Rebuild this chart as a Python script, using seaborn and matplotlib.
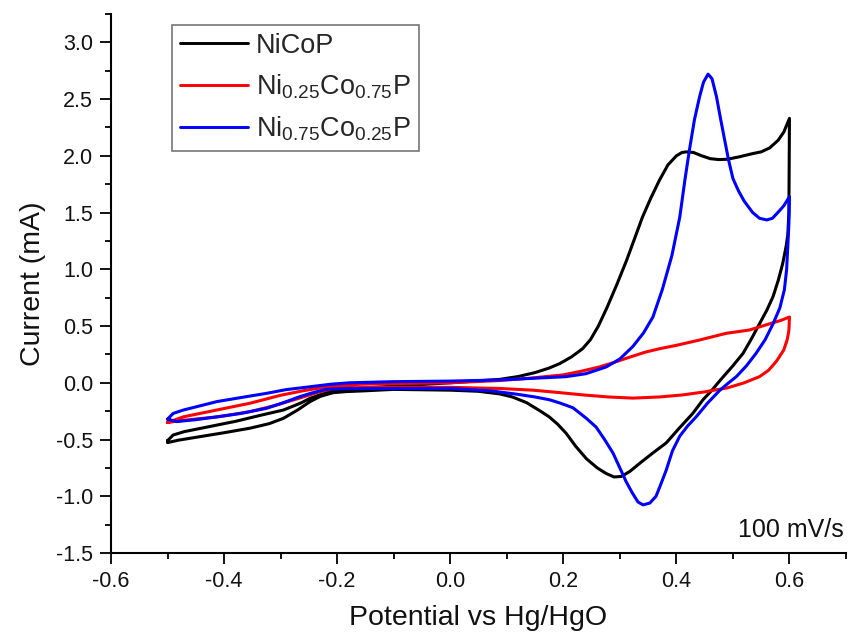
import numpy as np
import pandas as pd
import matplotlib
matplotlib.use("Agg")
import matplotlib.pyplot as plt
from matplotlib.ticker import MultipleLocator, FormatStrFormatter
import seaborn as sns

# ---------------- data (closed CV loops: forward scan then reverse scan) ----------------
nicop_potential = [
    -0.50, -0.49, -0.47, -0.43, -0.38, -0.33, -0.295, -0.265, -0.248, -0.23, -0.213,
    -0.19, -0.166, -0.10, 0.0, 0.0875, 0.12, 0.15, 0.175, 0.194, 0.215, 0.234, 0.248,
    0.262, 0.277, 0.295, 0.312, 0.326, 0.340, 0.355, 0.370, 0.385, 0.400, 0.410, 0.418,
    0.430, 0.445, 0.460, 0.475, 0.490, 0.510, 0.535, 0.550, 0.565, 0.580, 0.590, 0.600,
    0.599, 0.597, 0.594, 0.588, 0.580, 0.571, 0.560, 0.547, 0.533, 0.518, 0.500, 0.478,
    0.462, 0.447, 0.429, 0.405, 0.382, 0.358, 0.335, 0.318, 0.303, 0.290, 0.276, 0.260,
    0.241, 0.222, 0.205, 0.190, 0.175, 0.158, 0.135, 0.110, 0.0875, 0.05, 0.0, -0.10,
    -0.148, -0.185, -0.207, -0.230, -0.248, -0.270, -0.295, -0.320, -0.354, -0.400,
    -0.443, -0.480, -0.500, -0.500]
nicop_current = [
    -0.51, -0.46, -0.43, -0.39, -0.34, -0.28, -0.24, -0.18, -0.137, -0.105, -0.078,
    -0.06, -0.05, -0.03, 0.0, 0.03, 0.055, 0.09, 0.13, 0.17, 0.23, 0.30, 0.38,
    0.50, 0.66, 0.87, 1.08, 1.27, 1.46, 1.63, 1.785, 1.92, 2.00, 2.03, 2.035,
    2.03, 2.00, 1.975, 1.967, 1.97, 1.99, 2.02, 2.035, 2.07, 2.137, 2.21, 2.33,
    1.50, 1.30, 1.20, 1.05, 0.90, 0.76, 0.64, 0.52, 0.39, 0.26, 0.15, 0.025,
    -0.07, -0.15, -0.27, -0.40, -0.53, -0.62, -0.71, -0.78, -0.825, -0.83, -0.80, -0.75,
    -0.67, -0.56, -0.445, -0.365, -0.30, -0.245, -0.175, -0.125, -0.098, -0.075, -0.065, -0.058,
    -0.07, -0.078, -0.087, -0.12, -0.166, -0.24, -0.313, -0.36, -0.40, -0.44,
    -0.475, -0.505, -0.527, -0.51]

ni25_potential = [
    -0.50, -0.472, -0.413, -0.354, -0.30, -0.26, -0.236, -0.20, -0.15, 0.0, 0.0875,
    0.14, 0.20, 0.23, 0.264, 0.29, 0.32, 0.345, 0.37, 0.40, 0.441, 0.488, 0.529, 0.565,
    0.585, 0.600,
    0.599, 0.596, 0.590, 0.577, 0.563, 0.547, 0.520, 0.490, 0.450, 0.411, 0.370, 0.323,
    0.280, 0.235, 0.190, 0.146, 0.0875, 0.0, -0.15, -0.207, -0.235, -0.266, -0.31,
    -0.354, -0.41, -0.472, -0.50]
ni25_current = [
    -0.35, -0.30, -0.24, -0.18, -0.11, -0.07, -0.05, -0.025, -0.01, 0.0, 0.02,
    0.04, 0.07, 0.10, 0.14, 0.18, 0.23, 0.27, 0.30, 0.33, 0.377, 0.436, 0.465, 0.52,
    0.55, 0.58,
    0.46, 0.38, 0.29, 0.19, 0.11, 0.054, 0.0, -0.045, -0.08, -0.107, -0.125, -0.135,
    -0.125, -0.107, -0.085, -0.065, -0.05, -0.04, -0.04, -0.05, -0.085, -0.134, -0.20,
    -0.254, -0.30, -0.33, -0.35]

ni75_potential = [
    -0.50, -0.49, -0.472, -0.44, -0.413, -0.37, -0.325, -0.29, -0.248, -0.21, -0.178,
    -0.10, 0.0, 0.0875, 0.205, 0.24, 0.276, 0.30, 0.323, 0.342, 0.3585, 0.375, 0.392,
    0.406, 0.415, 0.423, 0.432, 0.441, 0.448, 0.456, 0.463, 0.471, 0.478, 0.485, 0.492,
    0.500, 0.510, 0.520, 0.535, 0.547, 0.560, 0.570, 0.583, 0.590, 0.600,
    0.599, 0.597, 0.595, 0.591, 0.583, 0.571, 0.557, 0.541, 0.524, 0.506, 0.490, 0.476,
    0.455, 0.435, 0.420, 0.406, 0.393, 0.382, 0.372, 0.364, 0.353, 0.341, 0.332, 0.322,
    0.311, 0.300, 0.288, 0.273, 0.258, 0.240, 0.217, 0.195, 0.176, 0.150, 0.117, 0.07,
    0.0, -0.148, -0.19, -0.219, -0.245, -0.266, -0.295, -0.325, -0.37, -0.413, -0.45,
    -0.484, -0.50]
ni75_current = [
    -0.32, -0.27, -0.24, -0.20, -0.166, -0.13, -0.093, -0.06, -0.035, -0.012, 0.0,
    0.01, 0.015, 0.025, 0.054, 0.08, 0.14, 0.21, 0.32, 0.44, 0.58, 0.82, 1.12,
    1.46, 1.785, 2.05, 2.32, 2.52, 2.65, 2.72, 2.68, 2.52, 2.33, 2.15, 1.97,
    1.80, 1.69, 1.60, 1.50, 1.45, 1.435, 1.45, 1.52, 1.56, 1.64,
    1.40, 1.20, 1.00, 0.82, 0.66, 0.52, 0.38, 0.26, 0.15, 0.054, -0.01, -0.07,
    -0.18, -0.30, -0.38, -0.47, -0.60, -0.77, -0.90, -1.00, -1.06, -1.076, -1.05, -0.97,
    -0.87, -0.75, -0.62, -0.50, -0.39, -0.31, -0.22, -0.18, -0.15, -0.125, -0.10, -0.07,
    -0.05, -0.05, -0.052, -0.057, -0.09, -0.122, -0.175, -0.225, -0.27, -0.30, -0.325,
    -0.342, -0.32]

series_labels = ["NiCoP", r"Ni$_{0.25}$Co$_{0.75}$P", r"Ni$_{0.75}$Co$_{0.25}$P"]
series_colors = ["#000000", "#FF0000", "#0000FF"]
x_ticks = [-0.6, -0.4, -0.2, 0.0, 0.2, 0.4, 0.6]
y_ticks = [-1.5, -1.0, -0.5, 0.0, 0.5, 1.0, 1.5, 2.0, 2.5, 3.0]
scan_rate_text = "100 mV/s"

# ---------------- build table ----------------
frames = []
for lab, xs, ys in zip(series_labels,
                       [nicop_potential, ni25_potential, ni75_potential],
                       [nicop_current, ni25_current, ni75_current]):
    frames.append(pd.DataFrame({"Potential": xs, "Current": ys, "Sample": lab}))
df = pd.concat(frames, ignore_index=True)

# ---------------- style ----------------
sns.set_theme(style="ticks")
plt.rcParams["font.family"] = ["Liberation Sans", "DejaVu Sans"]
plt.rcParams["mathtext.fontset"] = "custom"
plt.rcParams["mathtext.rm"] = "Liberation Sans"
plt.rcParams["mathtext.it"] = "Liberation Sans:italic"
plt.rcParams["mathtext.default"] = "rm"
plt.rcParams["axes.unicode_minus"] = False

fig = plt.figure(figsize=(8.49, 6.43), dpi=100)
ax = fig.add_axes([111 / 849, 1 - 553 / 643, 735 / 849, 539 / 643])

sns.lineplot(data=df, x="Potential", y="Current", hue="Sample", units="Sample",
             palette=dict(zip(series_labels, series_colors)), hue_order=series_labels,
             sort=False, estimator=None, linewidth=2.2, ax=ax)
for ln in ax.get_lines():
    ln.set_solid_joinstyle("round")
    ln.set_solid_capstyle("round")

ax.set_xlim(-0.6, 0.7)
ax.set_ylim(-1.5, 3.25)
ax.set_xticks(x_ticks)
ax.set_yticks(y_ticks)
ax.xaxis.set_minor_locator(MultipleLocator(0.1))
ax.yaxis.set_minor_locator(MultipleLocator(0.25))
ax.xaxis.set_major_formatter(FormatStrFormatter("%.1f"))
ax.yaxis.set_major_formatter(FormatStrFormatter("%.1f"))
ax.tick_params(which="major", direction="out", length=8, width=1.3, labelsize=15.5,
               color="black", labelcolor="#111111", pad=5)
ax.tick_params(which="minor", direction="out", length=4.5, width=1.3, color="black")
for side in ["top", "right"]:
    ax.spines[side].set_visible(False)
for side in ["left", "bottom"]:
    ax.spines[side].set_linewidth(1.5)
    ax.spines[side].set_color("black")

ax.set_xlabel("Potential vs Hg/HgO", fontsize=20.5, labelpad=9, color="#111111")
ax.set_ylabel("Current (mA)", fontsize=20.5, labelpad=7, color="#111111")

handles, labels = ax.get_legend_handles_labels()
leg = ax.legend(handles, labels, loc="upper left", bbox_to_anchor=(0.083, 0.98),
                borderaxespad=0, fontsize=19.5, frameon=True, fancybox=False,
                handlelength=2.5, handletextpad=0.3, labelspacing=0.5, borderpad=0.3)
leg.get_frame().set_edgecolor("#555555")
leg.get_frame().set_linewidth(1.2)
for ln in leg.get_lines():
    ln.set_linewidth(2.1)

ax.text(0.997, 0.043, scan_rate_text, transform=ax.transAxes, ha="right", va="center",
        fontsize=18, color="#111111")

fig.savefig("out.png", dpi=100)
